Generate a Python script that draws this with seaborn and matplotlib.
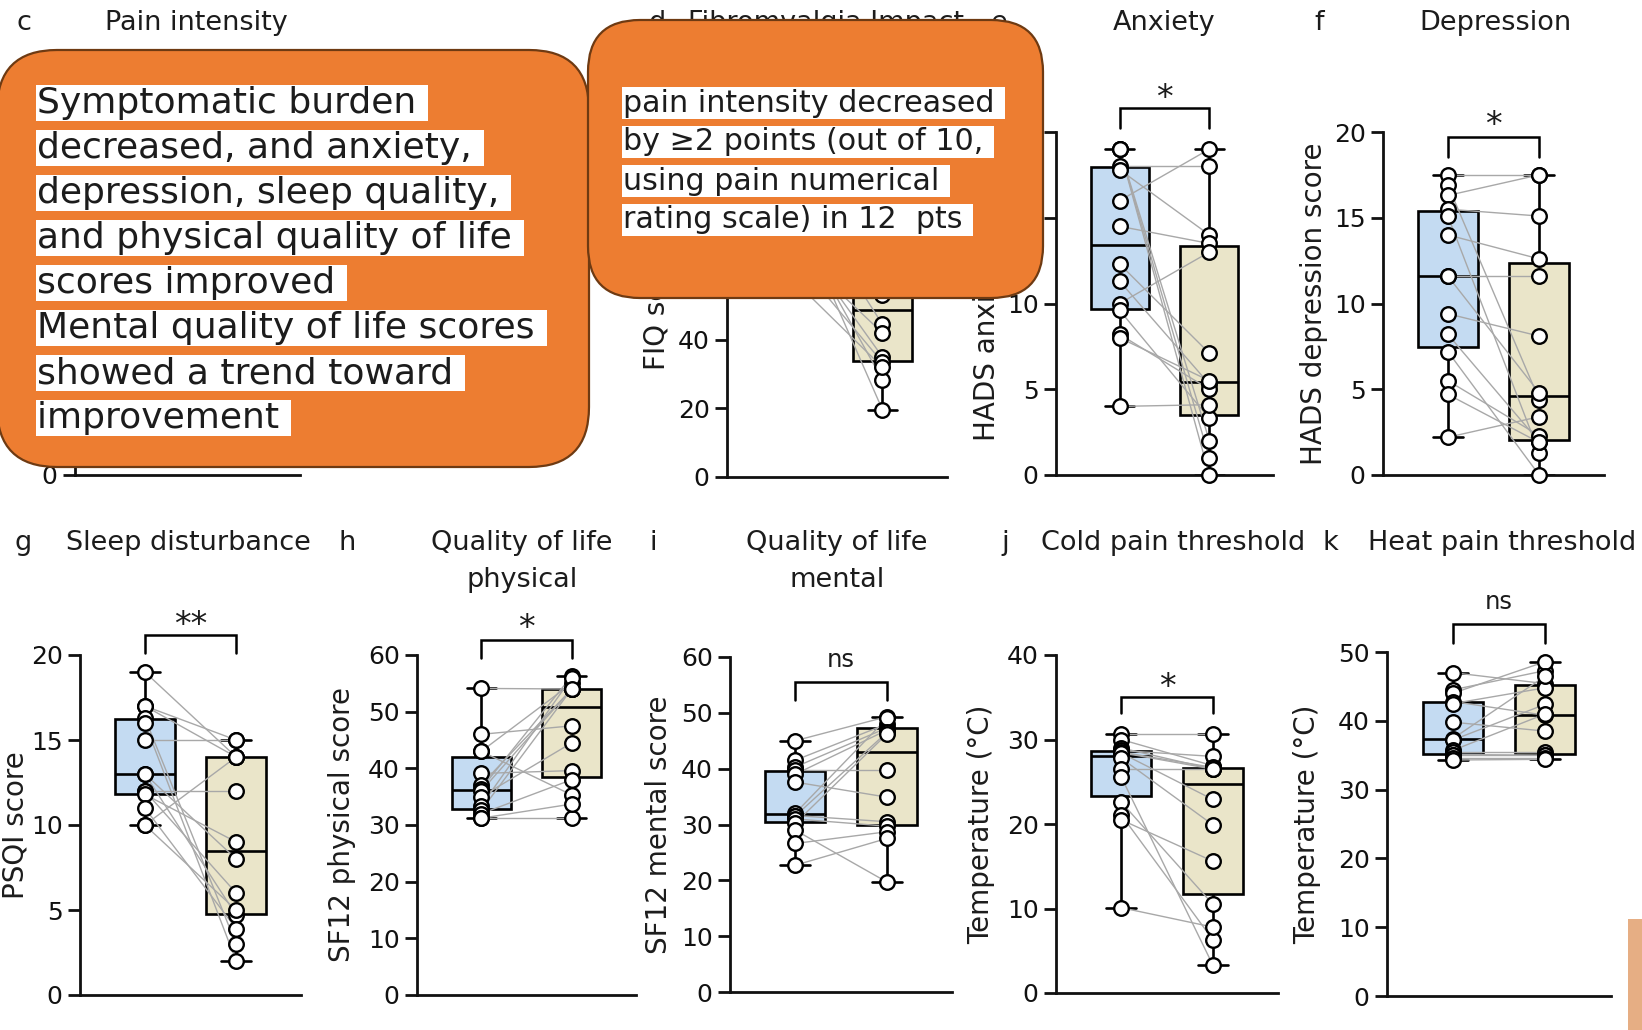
import numpy as np
import pandas as pd
import matplotlib
matplotlib.use("Agg")
import matplotlib.pyplot as plt
import matplotlib.transforms as mtransforms
from matplotlib.patches import FancyBboxPatch, Rectangle
import seaborn as sns

# ---------------- data ----------------
groups = ["Pre", "Post"]

c_title = ["Pain intensity"]
c_ylabel = "NRS score"
c_pre = [8, 7.5, 9, 6.5, 7, 8.5, 6, 7, 8, 9.5, 7.5, 6.5, 8, 7]
c_post = [4, 5, 6, 3, 4.5, 7, 2.5, 5, 6, 8, 3.5, 4, 5.5, 2]
c_ticks = [0, 2, 4, 6, 8, 10]

d_title = ["Fibromyalgia Impact"]
d_ylabel = "FIQ score"
d_pre = [90, 86, 83, 80, 78, 76, 74, 72, 70, 67, 65, 62, 58, 57]
d_post = [82, 44.5, 75, 19.6, 71, 28.3, 67, 35, 63, 42, 33.4, 58, 32, 53.1]
d_ticks = [0, 20, 40, 60, 80, 100]

e_title = ["Anxiety"]
e_ylabel = "HADS anxiety score"
e_pre = [19, 19, 19, 18, 17.8, 16, 14.5, 12.3, 11.3, 10, 9.6, 8.2, 8, 4]
e_post = [0, 1, 2, 18, 14, 19, 13.5, 7.1, 5.3, 13, 3.3, 5, 5.5, 4.1]
e_ticks = [0, 5, 10, 15, 20]

f_title = ["Depression"]
f_ylabel = "HADS depression score"
f_pre = [17.5, 16.9, 16.3, 15.5, 15.1, 14, 11.6, 11.6, 9.4, 8.2, 7.2, 5.5, 4.7, 2.2]
f_post = [17.5, 4.4, 17.5, 15.1, 1.3, 12.6, 11.6, 4.8, 8.1, 1.95, 0, 2.3, 1.9, 3.4]
f_ticks = [0, 5, 10, 15, 20]

g_title = ["Sleep disturbance"]
g_ylabel = "PSQI score"
g_pre = [19, 17, 17, 16.3, 16, 15, 13, 13, 12, 12, 11.8, 11, 10, 10]
g_post = [14, 15, 14, 3, 2, 15, 8, 4.7, 12, 6, 9, 3.9, 14, 5]
g_ticks = [0, 5, 10, 15, 20]

h_title = ["Quality of life", "physical"]
h_ylabel = "SF12 physical score"
h_pre = [54.1, 46, 43, 43, 39.1, 37.1, 36.4, 36, 35, 33.4, 32.6, 32, 31.2, 31.2]
h_post = [54, 47.5, 35.3, 55, 39.6, 54, 56.3, 54, 44.5, 56, 54, 38, 31.2, 33.7]
h_ticks = [0, 10, 20, 30, 40, 50, 60]

i_title = ["Quality of life", "mental"]
i_ylabel = "SF12 mental score"
i_pre = [45, 41.5, 40.3, 39.8, 39, 37.6, 32, 31.6, 31.5, 31, 30.2, 29, 26.6, 22.7]
i_post = [49.3, 48, 47.3, 39.8, 46.9, 34.9, 49, 30.5, 46.5, 29.7, 46.2, 19.7, 28.7, 27.5]
i_ticks = [0, 10, 20, 30, 40, 50, 60]

j_title = ["Cold pain threshold"]
j_ylabel = "Temperature (°C)"
j_pre = [30.6, 30, 29, 28.7, 28.5, 28.45, 28.4, 27.8, 26.5, 25.6, 22.6, 21.1, 20.5, 10.1]
j_post = [30.6, 26.9, 26.5, 28, 26.7, 26.5, 22.9, 19.9, 26.5, 3.3, 10.5, 6.3, 15.6, 7.8]
j_ticks = [0, 10, 20, 30, 40]

k_title = ["Heat pain threshold"]
k_ylabel = "Temperature (°C)"
k_pre = [47, 44.5, 44, 42.8, 42.5, 39.8, 37.4, 37.2, 35.7, 35.5, 35.1, 35, 34.6, 34.3]
k_post = [45.4, 47.3, 48.6, 40.8, 44.8, 38.5, 46.5, 42.4, 41, 35.5, 35, 35, 34.6, 34.4]
k_ticks = [0, 10, 20, 30, 40, 50]

sig_labels = {"e": "*", "f": "*", "g": "**", "h": "*", "i": "ns", "j": "*", "k": "ns"}

note_left = ["Symptomatic burden ", "decreased, and anxiety, ", "depression, sleep quality, ",
             "and physical quality of life ", "scores improved ", "Mental quality of life scores ",
             "showed a trend toward ", "improvement "]
note_right = ["pain intensity decreased ", "by \u22652 points (out of 10, ", "using pain numerical ",
              "rating scale) in 12  pts "]

# ---------------- style / layout ----------------
W, H, DPI = 1642, 1030, 100
BLUE = "#C4DBF2"
BEIGE = "#EAE5C9"
GRAY = "#A8A8A8"
TXT = "#1c1c1c"
ORANGE = "#ED7D31"
ORANGE_EDGE = "#6E3A12"

sns.set_style("ticks")
plt.rcParams["font.family"] = ["DejaVu Sans"]

panels = {
    "c": dict(pre=c_pre, post=c_post, ticks=c_ticks, title=c_title, ylabel=c_ylabel,
              ax=(75, 300, 133, 475), letter=(24, 23), tpos=(196, "center"), ylab_x=40),
    "d": dict(pre=d_pre, post=d_post, ticks=d_ticks, title=d_title, ylabel=d_ylabel,
              ax=(727, 947, 134, 477), letter=(657, 23), tpos=(688, "left"), ylab_x=655),
    "e": dict(pre=e_pre, post=e_post, ticks=e_ticks, title=e_title, ylabel=e_ylabel,
              ax=(1056, 1273, 132, 475), letter=(999, 23), tpos=(1164, "center"), ylab_x=986,
              sig=(1.012, 1.07, 1.128)),
    "f": dict(pre=f_pre, post=f_post, ticks=f_ticks, title=f_title, ylabel=f_ylabel,
              ax=(1383, 1604, 132, 475), letter=(1319, 23), tpos=(1495, "center"), ylab_x=1313,
              sig=(0.927, 0.985, 1.05)),
    "g": dict(pre=g_pre, post=g_post, ticks=g_ticks, title=g_title, ylabel=g_ylabel,
              ax=(80, 301, 655, 995), letter=(23, 543), tpos=(188, "center"), ylab_x=15,
              sig=(1.006, 1.059, 1.118)),
    "h": dict(pre=h_pre, post=h_post, ticks=h_ticks, title=h_title, ylabel=h_ylabel,
              ax=(417, 636, 655, 995), letter=(347, 543), tpos=(522, "center"), ylab_x=341,
              sig=(0.991, 1.044, 1.109)),
    "i": dict(pre=i_pre, post=i_post, ticks=i_ticks, title=i_title, ylabel=i_ylabel,
              ax=(730, 952, 657, 992), letter=(653, 543), tpos=(837, "center"), ylab_x=658,
              sig=(0.872, 0.925, 0.99)),
    "j": dict(pre=j_pre, post=j_post, ticks=j_ticks, title=j_title, ylabel=j_ylabel,
              ax=(1056, 1278, 655, 993), letter=(1005, 543), tpos=(1173, "center"), ylab_x=980,
              sig=(0.828, 0.876, 0.935)),
    "k": dict(pre=k_pre, post=k_post, ticks=k_ticks, title=k_title, ylabel=k_ylabel,
              ax=(1387, 1611, 652, 996), letter=(1330, 543), tpos=(1368, "left"), ylab_x=1306,
              sig=(1.026, 1.081, 1.145)),
}

fig = plt.figure(figsize=(W / DPI, H / DPI), dpi=DPI)
fig.patch.set_facecolor("white")


def fx(x):
    return x / W


def fy(y):
    return 1 - y / H


for key, p in panels.items():
    x0, x1, yt, yb = p["ax"]
    ax = fig.add_axes([fx(x0), fy(yb), (x1 - x0) / W, (yb - yt) / H])
    n = len(p["pre"])
    df = pd.DataFrame({
        "pid": np.tile(np.arange(n), 2),
        "group": np.repeat(groups, n),
        "pos": np.repeat([0.0, 1.0], n),
        "value": np.concatenate([p["pre"], p["post"]]).astype(float),
    })
    sns.boxplot(data=df, x="pos", y="value", hue="group", hue_order=groups,
                palette=[BLUE, BEIGE], saturation=1, native_scale=True, dodge=False,
                width=0.65, whis=(0, 100), showfliers=False, linecolor="black",
                linewidth=1.9, legend=False, ax=ax)
    sns.lineplot(data=df, x="pos", y="value", units="pid", estimator=None,
                 color=GRAY, linewidth=1.0, ax=ax, legend=False, zorder=3)
    sns.scatterplot(data=df, x="pos", y="value", color="white", edgecolor="black",
                    linewidth=1.7, s=110, ax=ax, legend=False, zorder=4, clip_on=False)
    ax.set_xlim(-0.71, 1.71)
    ax.set_ylim(0, p["ticks"][-1])
    ax.set_yticks(p["ticks"])
    ax.set_xticks([])
    ax.set_xlabel("")
    sns.despine(ax=ax)
    for s in ("left", "bottom"):
        ax.spines[s].set_linewidth(2.0)
        ax.spines[s].set_color("#111111")
    ax.tick_params(axis="y", length=9, width=2.0, labelsize=18, pad=3.5, colors="#111111")
    ax.set_ylabel(p["ylabel"], fontsize=20, color=TXT)
    ax.yaxis.set_label_coords((p["ylab_x"] + 15 - x0) / (x1 - x0), 0.5)

    if "sig" in p:
        leg, top, tc = p["sig"]
        hpx = yb - yt
        trans = mtransforms.blended_transform_factory(ax.transData, ax.transAxes)
        ax.plot([0, 0, 1, 1], [leg, top, top, leg], transform=trans, color="black",
                lw=1.8, clip_on=False, solid_joinstyle="miter")
        lab = sig_labels[key]
        if lab == "ns":
            ax.text(0.5, tc - 7 / hpx, lab, transform=trans, ha="center", va="baseline",
                    fontsize=17.5, color=TXT)
        else:
            ax.text(0.5, tc - 20 / hpx, lab, transform=trans, ha="center", va="baseline",
                    fontsize=24, color=TXT)

    # panel letter and title
    lx, ly = p["letter"]
    fig.text(fx(lx), fy(ly), key, fontsize=19.5, color=TXT, ha="center", va="center")
    tx, tha = p["tpos"]
    for li, line in enumerate(p["title"]):
        fig.text(fx(tx), fy(ly + li * 37), line, fontsize=19.5, color=TXT, ha=tha, va="center")

# ---------------- overlay callouts ----------------
ov = fig.add_axes([0, 0, 1, 1], zorder=10)
ov.set_xlim(0, W)
ov.set_ylim(H, 0)
ov.axis("off")
ov.patch.set_alpha(0)

ov.add_patch(FancyBboxPatch((-3, 50), 592, 417, boxstyle="round,pad=0,rounding_size=60",
                            fc=ORANGE, ec=ORANGE_EDGE, lw=1.6))
ov.add_patch(FancyBboxPatch((588, 20), 455, 278, boxstyle="round,pad=0,rounding_size=52",
                            fc=ORANGE, ec=ORANGE_EDGE, lw=1.6))

for li, line in enumerate(note_left):
    ov.text(37, 103 + 45 * li, line, fontsize=26, color=TXT, ha="left", va="center",
            bbox=dict(fc="white", ec="none", pad=0.5))
for li, line in enumerate(note_right):
    ov.text(623, 103 + 39 * li, line, fontsize=21.7, color=TXT, ha="left", va="center",
            bbox=dict(fc="white", ec="none", pad=0.8))

ov.add_patch(Rectangle((1628, 919), 20, 130, fc="#E6AE84", ec="none"))

fig.savefig("out.png", dpi=DPI, facecolor="white")
